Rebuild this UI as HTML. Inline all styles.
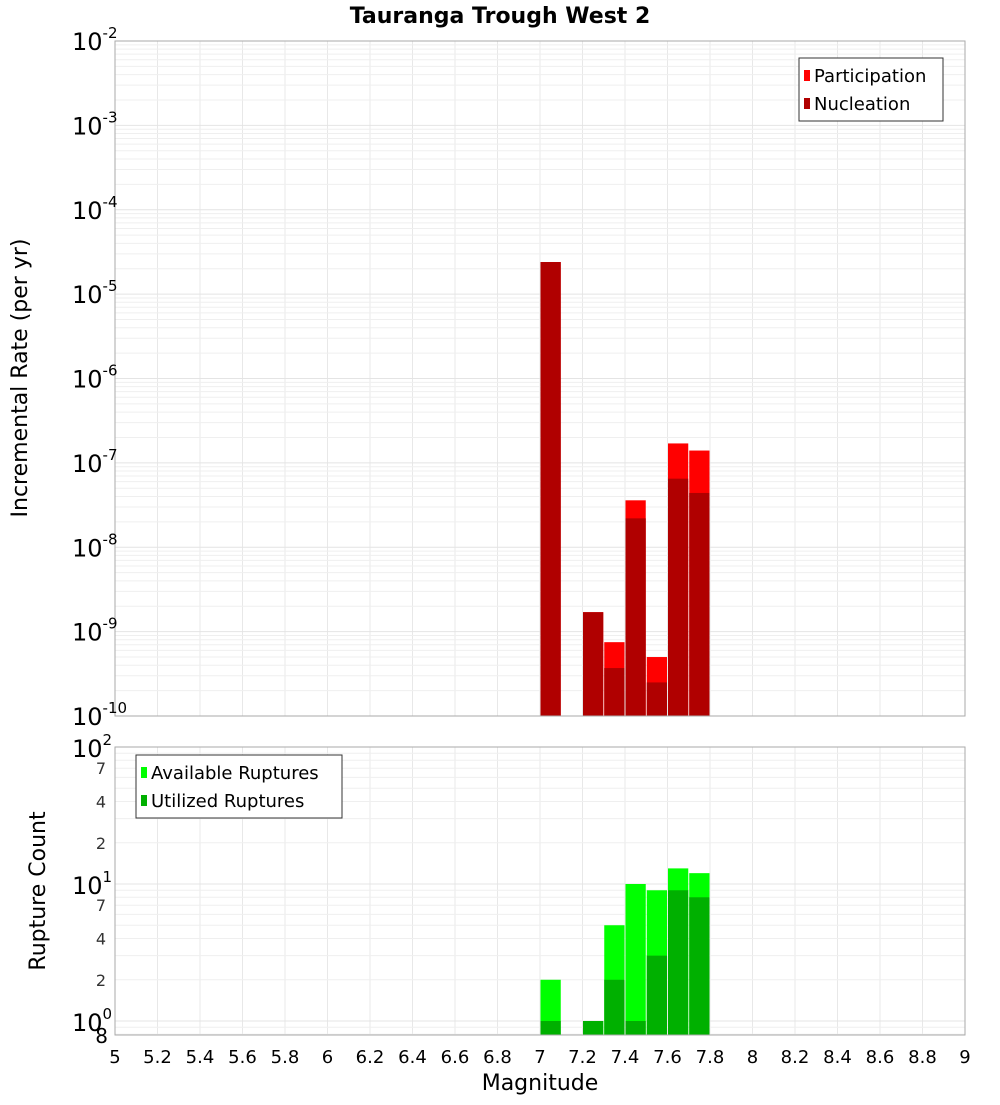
<!DOCTYPE html>
<html><head><meta charset="utf-8"><style>
body{margin:0;background:#fff;font-family:"Liberation Sans","DejaVu Sans",sans-serif}
svg text{font-family:"DejaVu Sans","Liberation Sans",sans-serif}
</style></head><body>
<svg id="c" width="1000" height="1100" xmlns="http://www.w3.org/2000/svg">
<text x="500" y="23" text-anchor="middle" font-size="22" font-weight="bold">Tauranga Trough West 2</text>
<text transform="translate(27,378) rotate(-90)" text-anchor="middle" font-size="22">Incremental Rate (per yr)</text>
<text transform="translate(45,891) rotate(-90)" text-anchor="middle" font-size="22">Rupture Count</text>
<text x="540" y="1090" text-anchor="middle" font-size="22">Magnitude</text>
<g id="topg"></g><g id="botg"></g><g id="xt"></g>
</svg>
<script>
const mags=[7.05,7.25,7.35,7.45,7.55,7.65,7.75];
const participation=[2.4e-5,1.7e-9,7.5e-10,3.6e-8,5e-10,1.7e-7,1.4e-7];
const nucleation=[2.4e-5,1.7e-9,3.7e-10,2.2e-8,2.5e-10,6.5e-8,4.4e-8];
const available=[2,1,5,10,9,13,12];
const utilized=[1,1,2,1,3,9,8];
const xTicks=[5,5.2,5.4,5.6,5.8,6,6.2,6.4,6.6,6.8,7,7.2,7.4,7.6,7.8,8,8.2,8.4,8.6,8.8,9];
const topExp=[-10,-9,-8,-7,-6,-5,-4,-3,-2];
const botExp=[0,1,2];
const botMinor=[2,4,7];
const NS="http://www.w3.org/2000/svg";
const L=115,R=965;
const xs=m=>L+(m-5)/4*(R-L);
const T0=41,T1=716;
const yTop=v=>T1-(Math.log10(v)+10)/8*(T1-T0);
const B0=747,B1=1035,bDec=137,b1y=1021;
const yBot=v=>b1y-Math.log10(v)*bDec;
function el(p,t,a){const e=document.createElementNS(NS,t);for(const k in a)e.setAttribute(k,a[k]);p.appendChild(e);return e;}
const gTop=document.getElementById('topg'),gBot=document.getElementById('botg'),xt=document.getElementById('xt');
for(const m of xTicks){for(const [g,a,b] of [[gTop,T0,T1],[gBot,B0,B1]]){const l=el(g,'line',{x1:xs(m),x2:xs(m),y1:a,y2:b,stroke:'#e8e8e8'});

}}
for(let e=-10;e<-2;e++)for(let k=1;k<10;k++){const y=yTop(k*Math.pow(10,e));const l=el(gTop,'line',{x1:L,x2:R,y1:y,y2:y,stroke:k==1?'#e4e4e4':'#efefef'});

}
for(let e=-1;e<2;e++)for(let k=1;k<10;k++){const v=k*Math.pow(10,e);const y=yBot(v);if(y>B1||y<B0)continue;const l=el(gBot,'line',{x1:L,x2:R,y1:y,y2:y,stroke:k==1?'#e4e4e4':'#efefef'});

}
const bw=(R-L)/40;
mags.forEach((m,i)=>{const x=xs(m)-bw/2+0.5,w=bw-1;
const p=el(gTop,'rect',{x:x,y:yTop(participation[i]),width:w,height:T1-yTop(participation[i]),fill:'#ff0000'});


const n=el(gTop,'rect',{x:x,y:yTop(nucleation[i]),width:w,height:T1-yTop(nucleation[i]),fill:'#b00000'});


const a=el(gBot,'rect',{x:x,y:yBot(available[i]),width:w,height:B1-yBot(available[i]),fill:'#00ff00'});


const u=el(gBot,'rect',{x:x,y:yBot(utilized[i]),width:w,height:B1-yBot(utilized[i]),fill:'#00b000'});

});
el(gTop,'rect',{x:L,y:T0,width:R-L,height:T1-T0,fill:'none',stroke:'#aaa'});
el(gBot,'rect',{x:L,y:B0,width:R-L,height:B1-B0,fill:'none',stroke:'#aaa'});
for(const e of topExp){const y=yTop(Math.pow(10,e))+9;const t=el(gTop,'text',{x:72,y:y,'font-size':24});


t.textContent='10';const s=el(t,'tspan',{dy:-12,'font-size':15});s.textContent=String(e);}
for(const e of botExp){const y=yBot(Math.pow(10,e))+10;const t=el(gBot,'text',{x:72,y:y,'font-size':24});


t.textContent='10';const s=el(t,'tspan',{dy:-12,'font-size':15});s.textContent=String(e);}
for(let e=0;e<2;e++)for(const k of botMinor){const t=el(gBot,'text',{x:106,y:yBot(k*Math.pow(10,e))+6,'font-size':16,'text-anchor':'end',fill:'#333'});


t.textContent=k;}
{const t=el(gBot,'text',{x:108,y:1043,'font-size':20,'text-anchor':'end'});t.textContent='8';}
for(const m of xTicks){const t=el(xt,'text',{x:xs(m),y:1063,'font-size':18,'text-anchor':'middle'});


t.textContent=String(m);}
function legend(g,x,y,w,items,name){const gg=el(g,'g',{});
el(gg,'rect',{x:x,y:y,width:w,height:items.length*28+7,fill:'#fff',stroke:'#333'});
items.forEach((it,i)=>{el(gg,'rect',{x:x+5,y:y+12+i*28,width:6,height:11,fill:it[1]});const t=el(gg,'text',{x:x+15,y:y+24+i*28,'font-size':18});t.textContent=it[0];});}
legend(gTop,799,58,144,[['Participation','#ff0000'],['Nucleation','#b00000']],'top-legend');
legend(gBot,136,755,206,[['Available Ruptures','#00ff00'],['Utilized Ruptures','#00b000']],'bottom-legend');
</script>
</body></html>
